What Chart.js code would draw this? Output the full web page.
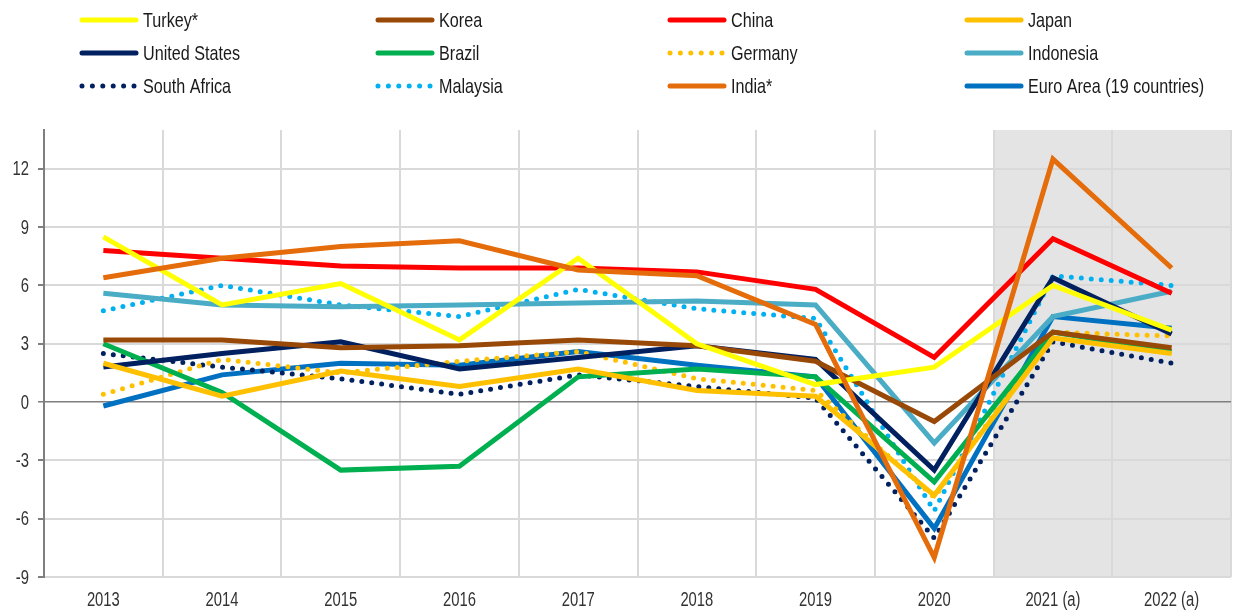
<!DOCTYPE html>
<html>
<head>
<meta charset="utf-8">
<script src="https://cdn.jsdelivr.net/npm/chart.js@4.4.0/dist/chart.umd.min.js"></script>
<style>
  html, body { margin: 0; padding: 0; background: #fff; }
  #wrap { width: 1236px; height: 614px; }
</style>
</head>
<body>
<div id="wrap"><canvas id="growth" width="1236" height="614"></canvas></div>
<script>
// categories
const years = ['2013', '2014', '2015', '2016', '2017', '2018', '2019', '2020', '2021 (a)', '2022 (a)'];
const yTicks = [-9, -6, -3, 0, 3, 6, 9, 12];
const forecastFrom = '2021 (a)';

// GDP growth, %
const turkey      = [8.5, 5.0, 6.1, 3.2, 7.4, 3.0, 0.9, 1.8, 6.0, 3.7];
const korea       = [3.2, 3.2, 2.8, 2.9, 3.2, 2.9, 2.1, -1.0, 3.6, 2.8];
const china       = [7.8, 7.4, 7.0, 6.9, 6.9, 6.7, 5.8, 2.3, 8.4, 5.6];
const japan       = [2.0, 0.3, 1.6, 0.8, 1.7, 0.6, 0.3, -4.8, 3.3, 2.5];
const usa         = [1.8, 2.5, 3.1, 1.7, 2.3, 2.9, 2.2, -3.5, 6.4, 3.5];
const brazil      = [3.0, 0.5, -3.5, -3.3, 1.3, 1.7, 1.3, -4.1, 3.6, 2.6];
const germany     = [0.4, 2.2, 1.5, 2.1, 2.6, 1.2, 0.6, -4.9, 3.6, 3.4];
const indonesia   = [5.6, 5.0, 4.9, 5.0, 5.1, 5.2, 5.0, -2.1, 4.4, 5.7];
const southAfrica = [2.5, 1.8, 1.2, 0.4, 1.4, 0.8, 0.2, -7.0, 3.1, 2.0];
const malaysia    = [4.7, 6.0, 5.0, 4.4, 5.8, 4.8, 4.3, -5.6, 6.5, 6.0];
const india       = [6.4, 7.4, 8.0, 8.3, 6.8, 6.5, 4.0, -8.0, 12.5, 6.9];
const euroArea    = [-0.2, 1.4, 2.0, 1.9, 2.6, 1.9, 1.3, -6.5, 4.4, 3.8];

// the source uses a narrow face; squeeze Liberation Sans horizontally to match
const FONT = '"Liberation Sans", Arial, sans-serif';

function solid(label, data, color, extra) {
    return Object.assign({ label, data, borderColor: color, backgroundColor: color,
        borderWidth: 5, pointRadius: 0, fill: false, tension: 0 }, extra || {});
}
function dotted(label, data, color) {
    return solid(label, data, color, { borderDash: [0, 10], borderCapStyle: 'round' });
}

function narrowText(c, text, x, y, align, size, squeeze) {
    c.save();
    c.translate(x, y);
    c.scale(squeeze, 1);
    c.font = size + 'px ' + FONT;
    c.textAlign = align;
    c.textBaseline = 'middle';
    c.fillText(text, 0, 0);
    c.restore();
}

// shade behind the forecast years
const shadePlugin = {
    id: 'shade',
    beforeDraw(chart) {
        const x = chart.scales.x, area = chart.chartArea, c = chart.ctx;
        const i = years.indexOf(forecastFrom);
        const step = x.getPixelForValue(1) - x.getPixelForValue(0);
        const left = x.getPixelForValue(i) - step / 2;
        c.save();
        c.fillStyle = '#e4e4e4';
        c.fillRect(left, area.top, area.right - left, area.bottom - area.top);
        c.restore();
    }
};

// axis labels drawn in the narrow face
const axisLabels = {
    id: 'axisLabels',
    afterDraw(chart) {
        const c = chart.ctx, x = chart.scales.x, y = chart.scales.y;
        c.save();
        c.fillStyle = '#333333';
        years.forEach((lab, i) => narrowText(c, lab, x.getPixelForValue(i), 600, 'center', 20, 0.74));
        yTicks.forEach(v => narrowText(c, String(v), 29, y.getPixelForValue(v) + 1, 'right', 20, 0.74));
        c.restore();
    }
};

// legend laid out in four fixed columns, three rows
const gridLegend = {
    id: 'gridLegend',
    afterDraw(chart) {
        const c = chart.ctx;
        const cols = [80, 376, 668, 965];
        const rows = [20, 53, 86];
        c.save();
        c.fillStyle = '#1a1a1a';
        chart.data.datasets.forEach((ds, i) => {
            const x = cols[i % 4], y = rows[Math.floor(i / 4)];
            c.beginPath();
            c.strokeStyle = ds.borderColor;
            c.lineWidth = 5;
            c.lineCap = 'round';
            if (ds.borderDash) {
                c.setLineDash([0, 10.4]);
                c.moveTo(x + 2, y); c.lineTo(x + 56, y);
            } else {
                c.setLineDash([]);
                c.moveTo(x + 2, y); c.lineTo(x + 56, y);
            }
            c.stroke();
            c.setLineDash([]);
            narrowText(c, ds.label, x + 63, y + 1, 'left', 21, 0.77);
        });
        c.restore();
    }
};

const ctx = document.getElementById('growth').getContext('2d');
new Chart(ctx, {
    type: 'line',
    data: {
        labels: years,
        datasets: [
            solid('Turkey*', turkey, '#ffff00'),
            solid('Korea', korea, '#984807'),
            solid('China', china, '#ff0000'),
            solid('Japan', japan, '#ffc000'),
            solid('United States', usa, '#002060'),
            solid('Brazil', brazil, '#00b050'),
            dotted('Germany', germany, '#ffc000'),
            solid('Indonesia', indonesia, '#4bacc6'),
            dotted('South Africa', southAfrica, '#002060'),
            dotted('Malaysia', malaysia, '#00b0f0'),
            solid('India*', india, '#e46c0a', { order: -1 }),
            solid('Euro Area (19 countries)', euroArea, '#0070c0')
        ]
    },
    options: {
        responsive: false,
        animation: false,
        layout: { padding: { top: 130, right: 5, left: 0, bottom: 0 } },
        plugins: { legend: { display: false }, tooltip: { enabled: false } },
        scales: {
            x: {
                offset: true,
                grid: { offset: true, color: '#d9d9d9', lineWidth: 2, drawTicks: false },
                border: { display: false },
                ticks: { display: false },
                afterFit(s) { s.height = 37; }
            },
            y: {
                min: -9,
                max: 14,
                afterBuildTicks(s) { s.ticks = yTicks.map(v => ({ value: v })); },
                grid: {
                    color: c => c.tick && c.tick.value === 0 ? '#7f7f7f' : '#d9d9d9',
                    lineWidth: c => c.tick && c.tick.value === 0 ? 1.5 : 2,
                    tickColor: '#7f7f7f',
                    tickLength: 6
                },
                border: { display: true, color: '#7f7f7f', width: 2 },
                ticks: { display: false },
                afterFit(s) { s.width = 44; }
            }
        }
    },
    plugins: [shadePlugin, axisLabels, gridLegend]
});
</script>
</body>
</html>
